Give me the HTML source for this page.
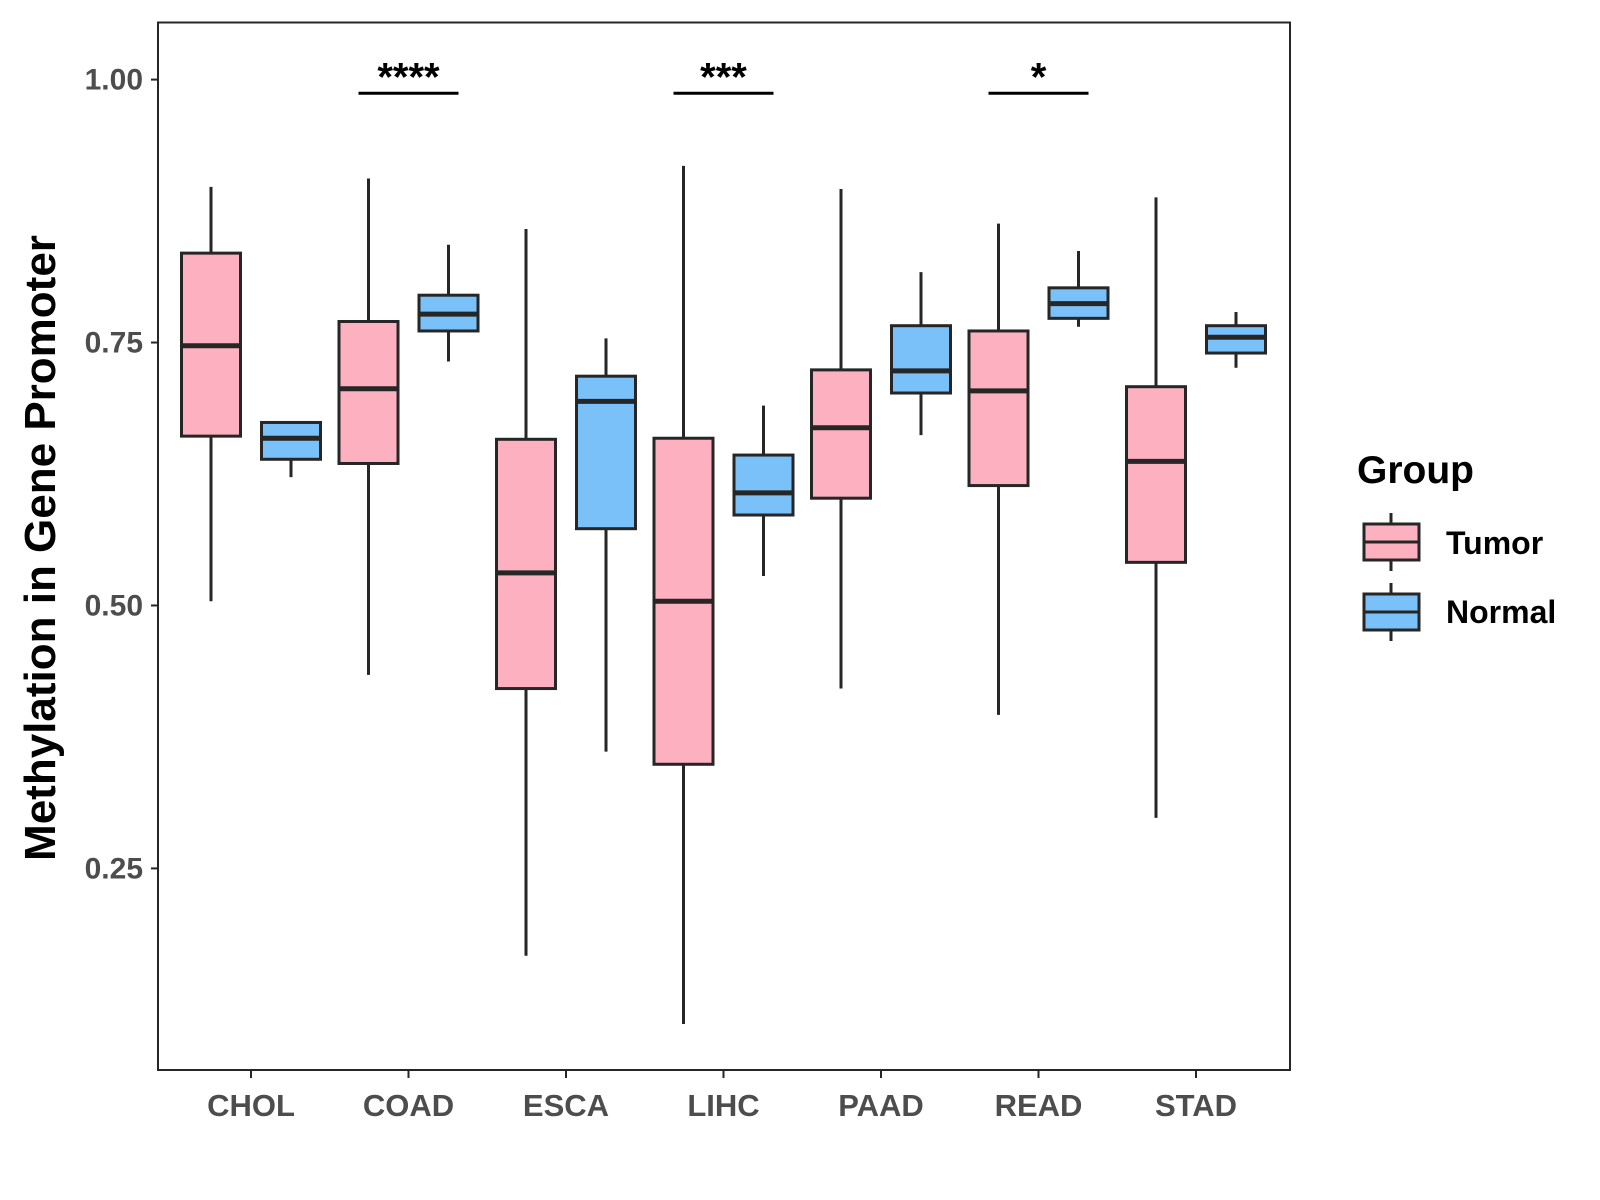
<!DOCTYPE html>
<html><head><meta charset="utf-8"><style>body{margin:0;background:#fff}svg{display:block}text{font-family:"Liberation Sans",Arial,sans-serif;font-weight:bold}</style></head>
<body>
<svg id="chart" width="1600" height="1200" xmlns="http://www.w3.org/2000/svg">
<rect x="158" y="22.5" width="1132" height="1047.5" fill="#fff" stroke="#262626" stroke-width="2"/>
<g id="marks"></g>
<text transform="translate(55,548) rotate(-90)" text-anchor="middle" font-size="44" fill="#000">Methylation in Gene Promoter</text>
<g>
<text x="1357" y="483" font-size="39" fill="#000">Group</text>
<line x1="1391" y1="513" x2="1391" y2="571" stroke="#262626" stroke-width="3"/>
<rect x="1364" y="524" width="55" height="36" fill="#FDB0C0" stroke="#262626" stroke-width="3"/>
<line x1="1364" y1="542" x2="1419" y2="542" stroke="#262626" stroke-width="3"/>
<text x="1446" y="554" font-size="32" fill="#000">Tumor</text>
<line x1="1391" y1="583" x2="1391" y2="641" stroke="#262626" stroke-width="3"/>
<rect x="1364" y="594" width="55" height="36" fill="#79C1F8" stroke="#262626" stroke-width="3"/>
<line x1="1364" y1="612" x2="1419" y2="612" stroke="#262626" stroke-width="3"/>
<text x="1446" y="623" font-size="32" fill="#000">Normal</text>
</g>
</svg>
<script>
const categories=["CHOL","COAD","ESCA","LIHC","PAAD","READ","STAD"];
const tumorStats=[[0.504,0.661,0.747,0.835,0.898],[0.434,0.635,0.706,0.770,0.906],[0.167,0.421,0.531,0.658,0.858],[0.102,0.349,0.504,0.659,0.918],[0.421,0.602,0.669,0.724,0.896],[0.396,0.614,0.704,0.761,0.863],[0.298,0.541,0.637,0.708,0.888]];
const normalStats=[[0.622,0.639,0.659,0.674,0.674],[0.732,0.761,0.777,0.795,0.843],[0.361,0.573,0.694,0.718,0.754],[0.528,0.586,0.607,0.643,0.690],[0.662,0.702,0.723,0.766,0.817],[0.765,0.773,0.787,0.802,0.837],[0.726,0.740,0.755,0.766,0.779]];
const yTicks=[0.25,0.5,0.75,1.0];
const yTickLabels=["0.25","0.50","0.75","1.00"];
const sigCats=["COAD","LIHC","READ"];
const sigLabels=["****","***","*"];
const sigLevel=0.987;
const NS="http://www.w3.org/2000/svg";
const g=document.getElementById('marks');
function y(v){return 868.4-(v-0.25)*(868.4-79.6)/0.75;}
function x(i){return 251+i*157.5;}
function mk(t,a,p){const e=document.createElementNS(NS,t);for(const k in a)e.setAttribute(k,a[k]);(p||g).appendChild(e);return e;}
const S="#262626";
yTicks.forEach((v,i)=>{
 const t=mk('line',{x1:151,x2:158,y1:y(v),y2:y(v),stroke:S,'stroke-width':2});
 
 
 const l=mk('text',{x:143,y:y(v)+10,'text-anchor':'end','font-size':30,fill:'#4d4d4d'});
 l.textContent=yTickLabels[i];
 
 
});
categories.forEach((c,i)=>{
 const t=mk('line',{x1:x(i),x2:x(i),y1:1070,y2:1078,stroke:S,'stroke-width':2});
 
 
 const l=mk('text',{x:x(i),y:1116,'text-anchor':'middle','font-size':31,fill:'#4d4d4d'});
 l.textContent=c;
 
 
});
function box(cx,s,fill,name){
 const grp=mk('g',{});
 
 
 mk('line',{x1:cx,x2:cx,y1:y(s[0]),y2:y(s[4]),stroke:S,'stroke-width':3},grp);
 mk('rect',{x:cx-29.5,y:y(s[3]),width:59,height:y(s[1])-y(s[3]),fill:fill,stroke:S,'stroke-width':3},grp);
 mk('line',{x1:cx-29.5,x2:cx+29.5,y1:y(s[2]),y2:y(s[2]),stroke:S,'stroke-width':5},grp);
}
categories.forEach((c,i)=>{
 box(x(i)-40,tumorStats[i],'#FDB0C0','box-tumor-'+c.toLowerCase());
 box(x(i)+40,normalStats[i],'#79C1F8','box-normal-'+c.toLowerCase());
});
sigCats.forEach((c,j)=>{
 const i=categories.indexOf(c);
 const b=mk('line',{x1:x(i)-50,x2:x(i)+50,y1:y(sigLevel),y2:y(sigLevel),stroke:'#000','stroke-width':3});
 
 
 const t=mk('text',{x:x(i),y:y(sigLevel)-3,'text-anchor':'middle','font-size':40,fill:'#000'});
 t.textContent=sigLabels[j];
 
 
});
</script>
</body></html>
